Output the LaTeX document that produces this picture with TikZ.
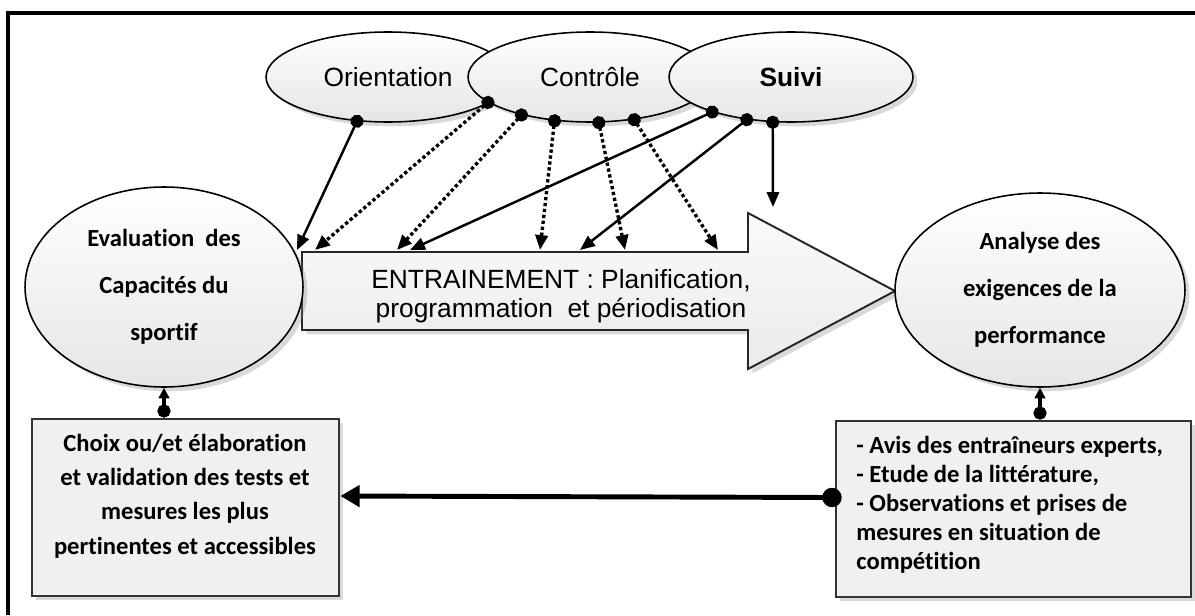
\documentclass[tikz,border=0pt]{standalone}
\usepackage{fontspec}
\setmainfont{Liberation Sans}
\newfontfamily\calfont[Ligatures=NoCommon]{Carlito}
\usepackage{tikz}
\usetikzlibrary{arrows.meta}
\usetikzlibrary{shapes.geometric}
\usetikzlibrary{shadows}

\tikzset{
  ombre/.style={drop shadow={shadow xshift=2.5pt,shadow yshift=-2.5pt,opacity=0.3}},
  topell/.style={ellipse,draw=black,line width=0.9pt,minimum width=4.88cm,minimum height=1.8cm,
    inner sep=0pt,top color=white,bottom color=gray!20,ombre,font=\fontsize{15}{17}\selectfont},
  bigell/.style={ellipse,draw=black,line width=0.9pt,inner sep=0pt,top color=white,bottom color=gray!20,
    ombre,align=center,font=\calfont\bfseries\fontsize{14}{26.7}\selectfont},
  boite/.style={rectangle,draw=black!80,line width=1.6pt,fill=gray!12,ombre},
  boitetxt/.style={inner sep=0pt,font=\calfont\bfseries\fontsize{14}{19.6}\selectfont},
  plein/.style={line width=1.4pt,arrows={Circle[length=7.5pt]-Triangle[length=8.5pt,width=7pt]},shorten <=-3.75pt},
  pointille/.style={plein,line width=1.9pt,dash pattern=on 1.9pt off 1.5pt},
  liaison/.style={line width=1.9pt,arrows={Circle[length=7.5pt]-Triangle[length=6pt,width=6pt]}},
  grosse/.style={line width=2.8pt,arrows={Circle[length=11pt]-Triangle[length=11pt,width=12pt]},shorten <=-4pt},
}

\begin{document}
\begin{tikzpicture}[x=0.02cm,y=-0.02cm]

  \useasboundingbox (0,0) rectangle (1195,615);
  \draw[line width=2pt] (8,615) -- (8,13) -- (1195,13);

  % grande fleche
  \draw[draw=black!85,line width=1.1pt,top color=gray!4,bottom color=gray!16,ombre]
    (302,252) -- (748,252) -- (748,213) -- (895,291) -- (748,369) -- (748,330) -- (302,330) -- cycle;
  \node[align=center,font=\fontsize{15}{16.5}\selectfont] at (561,296) (train)
    {ENTRAINEMENT : Planification,\\programmation~ et périodisation};
  \coordinate (e1) at (297,250);
  \coordinate (e2) at (315,250);
  \coordinate (e3) at (397,250);
  \coordinate (e4) at (410,250);
  \coordinate (e5) at (540,250);
  \coordinate (e6) at (580,250);
  \coordinate (e7) at (625,250);
  \coordinate (e8) at (718,250);
  \coordinate (e9) at (773,207);

  \node[bigell,minimum width=5.56cm,minimum height=4cm] at (164,287) (eval)
    {Evaluation~ des\\Capacités du\\sportif};
  \node[bigell,minimum width=5.8cm,minimum height=3.88cm] at (1040,290) (analyse)
    {Analyse des\\exigences de la\\performance};

  \node[topell] at (388,77) (orient) {Orientation};
  \node[topell] at (590,77) (ctrl) {Contrôle};
  \node[topell,font=\fontsize{15}{17}\selectfont\bfseries] at (791,77) (suivi) {Suivi};

  \node[boite,minimum width=6.14cm,minimum height=3.54cm] at (185.5,507.5) (choix) {};
  \node[boitetxt,align=center] at (185,496) (choixtxt)
    {Choix ou/et élaboration\\et validation des tests et\\mesures les plus\\pertinentes et accessibles};
  \node[boite,minimum width=7.1cm,minimum height=3.52cm] at (1013.5,509) (avis) {};
  \node[boitetxt,align=left,anchor=west,font=\calfont\bfseries\fontsize{14}{16.5}\selectfont] at (856,505) (avistxt)
    {- Avis des entraîneurs experts,\\- Etude de la littérature,\\- Observations et prises de\\mesures en situation de\\compétition};

  \draw[plein] (orient.-125.5) -- (e1);
  \draw[pointille] (ctrl.-166.8) -- (e2);
  \draw[pointille] (ctrl.-151.2) -- (e3);
  \draw[plein] (suivi.-156.1) -- (e4);
  \draw[pointille] (ctrl.-129.1) -- (e5);
  \draw[plein] (suivi.-136.3) -- (e6);
  \draw[pointille] (ctrl.-79.9) -- (e7);
  \draw[pointille] (ctrl.-44.4) -- (e8);
  \draw[plein] (suivi.-112) -- (e9);

  \draw[liaison] (eval.south |- choix.north) -- (eval.south);
  \draw[liaison] (analyse.south |- avis.north) -- (analyse.south);
  \draw[grosse] ([yshift=0.23cm]avis.west) -- ([yshift=0.23cm]choix.east);

\end{tikzpicture}
\end{document}
